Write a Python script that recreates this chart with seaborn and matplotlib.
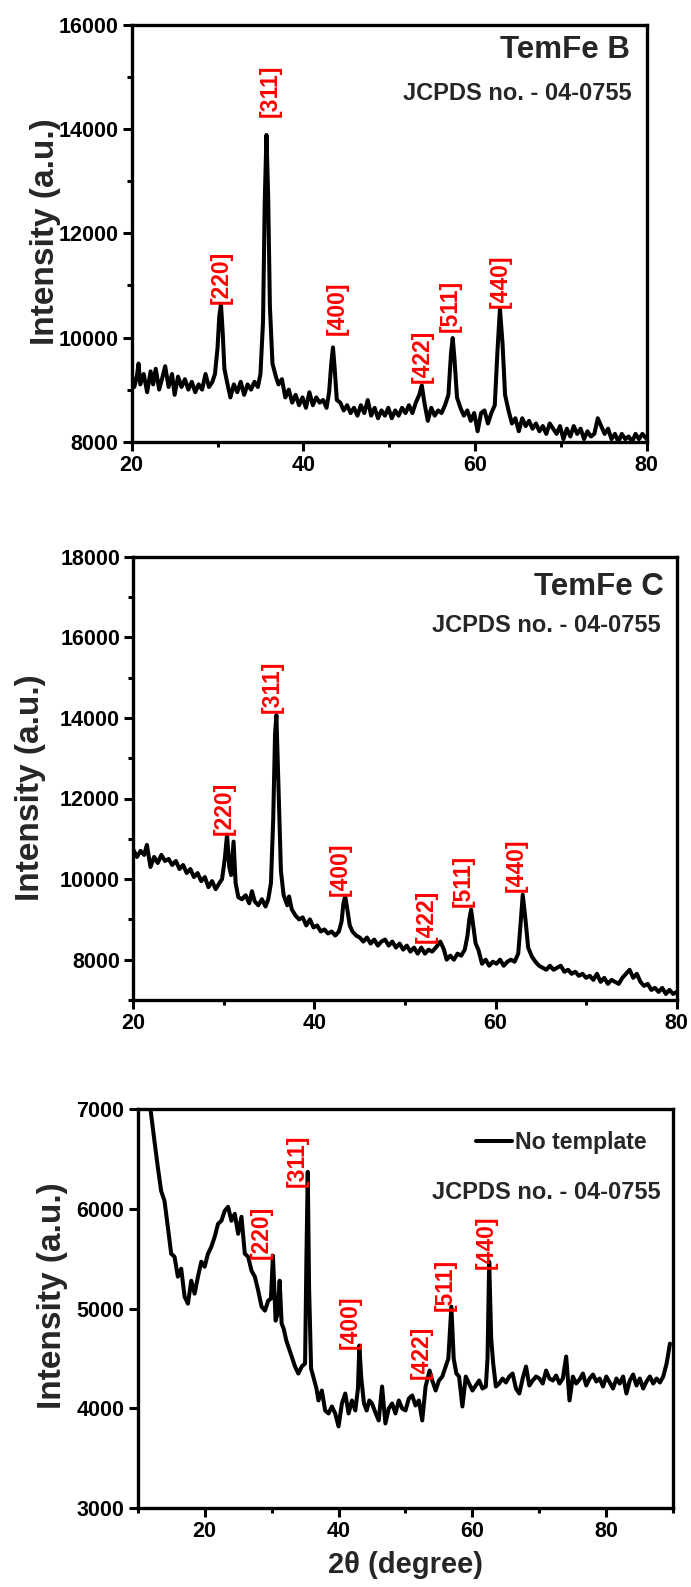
import matplotlib
matplotlib.use("Agg")
import matplotlib.pyplot as plt
from matplotlib.ticker import MultipleLocator
import seaborn as sns

# ---------------- data: TemFe B ----------------
two_theta_b = [
    20.0, 20.3, 20.6, 20.8, 21.0, 21.4, 21.8, 22.2, 22.5, 22.8,
    23.2, 23.6, 23.9, 24.3, 24.7, 25.0, 25.4, 25.8, 26.2, 26.6,
    27.0, 27.4, 27.8, 28.2, 28.6, 29.0, 29.4, 29.7, 30.0, 30.2,
    30.4, 30.6, 30.8, 31.1, 31.5, 31.9, 32.3, 32.7, 33.1, 33.5,
    33.9, 34.3, 34.7, 35.0, 35.3, 35.5, 35.7, 35.9, 36.1, 36.4,
    36.8, 37.1, 37.5, 37.9, 38.3, 38.7, 39.1, 39.5, 39.9, 40.3,
    40.7, 41.1, 41.5, 41.9, 42.3, 42.7, 43.0, 43.25, 43.45, 43.65,
    43.9, 44.3, 44.7, 45.1, 45.5, 45.9, 46.3, 46.7, 47.1, 47.5,
    47.9, 48.3, 48.7, 49.1, 49.5, 49.9, 50.3, 50.7, 51.1, 51.5,
    51.9, 52.3, 52.7, 53.1, 53.5, 53.8, 54.1, 54.5, 54.9, 55.3,
    55.7, 56.1, 56.5, 56.9, 57.2, 57.4, 57.6, 57.9, 58.3, 58.7,
    59.1, 59.5, 59.9, 60.3, 60.7, 61.1, 61.5, 61.9, 62.3, 62.6,
    62.9, 63.2, 63.5, 63.9, 64.3, 64.7, 65.1, 65.5, 65.9, 66.3,
    66.7, 67.1, 67.5, 67.9, 68.3, 68.7, 69.1, 69.5, 69.9, 70.3,
    70.7, 71.1, 71.5, 71.9, 72.3, 72.7, 73.1, 73.5, 73.9, 74.3,
    74.7, 75.1, 75.5, 75.9, 76.3, 76.7, 77.1, 77.5, 77.9, 78.3,
    78.7, 79.1, 79.5, 80.0,
]
intensity_b = [
    9300, 9050, 9250, 9500, 9100, 9300, 8950, 9350, 9100, 9400,
    9000, 9250, 9450, 9050, 9300, 8900, 9250, 9050, 9200, 9000,
    9150, 8950, 9100, 9000, 9300, 9050, 9150, 9300, 9800, 10400,
    10640, 10100, 9400, 9150, 8850, 9100, 8950, 9150, 8900, 9100,
    9000, 9150, 9050, 9300, 10300, 12600, 13890, 12700, 10600, 9500,
    9250, 9100, 9200, 8850, 9000, 8750, 8900, 8700, 8850, 8650,
    8950, 8700, 8850, 8750, 8800, 8650, 8950, 9500, 9810, 9400,
    8800, 8750, 8600, 8700, 8550, 8650, 8500, 8700, 8550, 8800,
    8500, 8650, 8450, 8600, 8500, 8650, 8450, 8600, 8500, 8650,
    8550, 8700, 8550, 8750, 8900, 9080, 8750, 8400, 8650, 8500,
    8600, 8550, 8700, 8900, 9700, 9990, 9600, 8850, 8650, 8500,
    8600, 8400, 8550, 8200, 8550, 8600, 8350, 8550, 8700, 9700,
    10550, 9900, 8900, 8600, 8350, 8450, 8200, 8450, 8300, 8400,
    8250, 8350, 8200, 8300, 8150, 8350, 8250, 8150, 8300, 8050,
    8250, 8100, 8300, 8150, 8250, 8050, 8200, 8100, 8150, 8450,
    8300, 8150, 8250, 8050, 8150, 8000, 8150, 8050, 8100, 8000,
    8150, 8050, 8150, 8050,
]

# ---------------- data: TemFe C ----------------
two_theta_c = [
    20.0, 20.4, 20.8, 21.2, 21.5, 21.9, 22.3, 22.7, 23.1, 23.5,
    23.9, 24.3, 24.7, 25.1, 25.5, 25.9, 26.3, 26.7, 27.1, 27.5,
    27.9, 28.3, 28.7, 29.1, 29.5, 29.8, 30.1, 30.35, 30.6, 30.8,
    31.07, 31.3, 31.6, 32.0, 32.4, 32.8, 33.1, 33.4, 33.8, 34.2,
    34.6, 34.9, 35.2, 35.45, 35.65, 35.8, 36.0, 36.3, 36.6, 37.0,
    37.2, 37.5, 37.9, 38.3, 38.7, 39.1, 39.5, 39.9, 40.3, 40.7,
    41.1, 41.5, 41.9, 42.3, 42.7, 43.0, 43.2, 43.4, 43.6, 43.9,
    44.2, 44.6, 45.0, 45.4, 45.8, 46.2, 46.6, 47.0, 47.4, 47.8,
    48.2, 48.6, 49.0, 49.4, 49.8, 50.2, 50.6, 51.0, 51.4, 51.8,
    52.2, 52.6, 53.0, 53.4, 53.9, 54.3, 54.6, 55.0, 55.4, 55.8,
    56.2, 56.6, 56.9, 57.1, 57.3, 57.5, 57.8, 58.1, 58.5, 58.9,
    59.3, 59.7, 60.1, 60.5, 60.9, 61.3, 61.7, 62.1, 62.5, 62.8,
    63.0, 63.3, 63.6, 64.0, 64.4, 64.8, 65.2, 65.6, 66.0, 66.4,
    66.8, 67.2, 67.6, 68.0, 68.4, 68.8, 69.2, 69.6, 70.0, 70.4,
    70.8, 71.2, 71.6, 72.0, 72.4, 72.8, 73.2, 73.6, 74.0, 74.4,
    74.8, 75.2, 75.6, 76.0, 76.4, 76.8, 77.2, 77.6, 78.0, 78.4,
    78.8, 79.2, 79.6, 80.0,
]
intensity_c = [
    10730, 10550, 10700, 10600, 10850, 10300, 10550, 10400, 10600, 10450,
    10500, 10350, 10450, 10250, 10350, 10150, 10250, 10050, 10150, 9950,
    10050, 9800, 9950, 9750, 9900, 10000, 10500, 11100, 10300, 10100,
    10930, 9900, 9550, 9500, 9600, 9400, 9700, 9450, 9350, 9500,
    9320, 9500, 9900, 11500, 13600, 14070, 12500, 10200, 9600, 9350,
    9570, 9250, 9100, 9000, 9050, 8850, 9000, 8800, 8850, 8700,
    8750, 8650, 8700, 8600, 8700, 8950, 9400, 9570, 9300, 8850,
    8700, 8600, 8550, 8450, 8550, 8400, 8500, 8350, 8450, 8500,
    8350, 8450, 8300, 8400, 8250, 8350, 8200, 8300, 8150, 8300,
    8150, 8250, 8200, 8300, 8450, 8250, 8000, 8100, 8000, 8150,
    8100, 8250, 8600, 9000, 9240, 8900, 8400, 8250, 7900, 8000,
    7850, 7950, 7900, 8000, 7850, 7950, 8000, 7950, 8150, 9000,
    9610, 9000, 8300, 8080, 7950, 7850, 7800, 7750, 7850, 7750,
    7800, 7850, 7700, 7750, 7650, 7700, 7600, 7650, 7550, 7600,
    7500, 7650, 7450, 7550, 7400, 7500, 7450, 7400, 7550, 7650,
    7750, 7550, 7650, 7450, 7350, 7400, 7250, 7300, 7200, 7300,
    7150, 7250, 7150, 7200,
]

# ---------------- data: No template ----------------
two_theta_n = [
    11.5, 12.0, 12.5, 13.0, 13.5, 14.0, 14.5, 15.0, 15.5, 16.0,
    16.5, 17.0, 17.5, 18.0, 18.5, 19.0, 19.5, 20.0, 20.5, 21.0,
    21.5, 22.0, 22.5, 23.0, 23.5, 24.0, 24.5, 25.0, 25.5, 26.0,
    26.5, 27.0, 27.5, 28.0, 28.5, 29.0, 29.5, 29.9, 30.2, 30.6,
    30.9, 31.2, 31.5, 31.8, 32.2, 32.6, 33.0, 33.5, 34.0, 34.5,
    35.0, 35.2, 35.4, 35.6, 35.9, 36.3, 36.7, 37.0, 37.5, 38.0,
    38.5, 39.0, 39.5, 40.0, 40.5, 41.0, 41.5, 42.0, 42.5, 42.9,
    43.1, 43.4, 43.8, 44.2, 44.6, 45.0, 45.5, 46.0, 46.5, 47.0,
    47.5, 48.0, 48.5, 49.0, 49.5, 50.0, 50.5, 51.0, 51.5, 52.0,
    52.5, 53.0, 53.3, 53.6, 54.0, 54.5, 55.0, 55.5, 56.0, 56.4,
    56.85, 57.2, 57.6, 58.0, 58.5, 59.0, 59.5, 60.0, 60.5, 61.0,
    61.5, 62.0, 62.25, 62.5, 62.8, 63.1, 63.5, 64.0, 64.5, 65.0,
    65.5, 66.0, 66.5, 67.0, 67.5, 68.0, 68.5, 69.0, 69.5, 70.0,
    70.5, 71.0, 71.5, 72.0, 72.5, 73.0, 73.5, 74.0, 74.5, 75.0,
    75.5, 76.0, 76.5, 77.0, 77.5, 78.0, 78.5, 79.0, 79.5, 80.0,
    80.5, 81.0, 81.5, 82.0, 82.5, 83.0, 83.5, 84.0, 84.5, 85.0,
    85.5, 86.0, 86.5, 87.0, 87.5, 88.0, 88.5, 89.0, 89.5,
]
intensity_n = [
    7200, 6950, 6680, 6420, 6180, 6080, 5820, 5550, 5520, 5320,
    5400, 5120, 5050, 5280, 5150, 5320, 5470, 5420, 5550, 5620,
    5720, 5850, 5880, 5980, 6020, 5880, 5950, 5750, 5920, 5550,
    5520, 5380, 5320, 5180, 5020, 4980, 5080, 5100, 5530, 4880,
    4950, 5280, 4850, 4800, 4680, 4600, 4520, 4420, 4350, 4420,
    4450, 5500, 6370, 5200, 4400, 4300, 4200, 4080, 4180, 3980,
    3950, 4020, 3950, 3820, 4050, 4150, 3950, 4080, 3980, 4200,
    4630, 4300, 4050, 3980, 4080, 4050, 3960, 3880, 4220, 3850,
    4000, 4050, 3950, 4080, 4000, 3980, 4100, 4130, 4030, 4080,
    3880, 4220, 4300, 4380, 4280, 4180, 4280, 4320, 4420, 4500,
    5020, 4500, 4350, 4320, 4020, 4320, 4250, 4180, 4230, 4280,
    4200, 4220, 4500, 5470, 4700, 4450, 4220, 4250, 4300, 4260,
    4320, 4350, 4200, 4150, 4300, 4420, 4230, 4280, 4320, 4300,
    4250, 4380, 4300, 4280, 4330, 4250, 4300, 4520, 4080, 4320,
    4250, 4290, 4350, 4230, 4300, 4340, 4270, 4300, 4220, 4320,
    4260, 4200, 4300, 4250, 4320, 4150, 4280, 4340, 4230, 4300,
    4200, 4270, 4320, 4250, 4300, 4260, 4320, 4450, 4650,
]

# Miller-index labels and where they sit (2theta, intensity at label base)
hkl_labels = ["[220]", "[311]", "[400]", "[422]", "[511]", "[440]"]
label_x_b = [30.4, 36.1, 43.9, 53.9, 57.1, 62.9]
label_y_b = [10650, 14230, 10050, 9120, 10100, 10560]
label_x_c = [30.0, 35.3, 42.8, 52.4, 56.4, 62.3]
label_y_c = [11100, 14110, 9570, 8410, 9320, 9690]
label_x_n = [28.5, 33.9, 41.8, 52.3, 56.0, 62.1]
label_y_n = [5500, 6220, 4600, 4300, 4980, 5400]

jcpds_text = "JCPDS no. - 04-0755"

assert len(two_theta_b) == len(intensity_b)
assert len(two_theta_c) == len(intensity_c)
assert len(two_theta_n) == len(intensity_n)

# ---------------- style ----------------
sns.set_theme(style="ticks")
FONT = ["Liberation Sans", "DejaVu Sans"]
plt.rcParams["font.family"] = FONT
plt.rcParams["font.weight"] = "bold"
plt.rcParams["axes.labelweight"] = "bold"

W, H = 691, 1587
fig = plt.figure(figsize=(W / 100, H / 100), dpi=100)


def px_axes(left, top, right, bottom):
    return fig.add_axes([left / W, 1 - bottom / H, (right - left) / W, (bottom - top) / H])


ax_b = px_axes(131.7, 25.0, 646.7, 441.7)
ax_c = px_axes(133.3, 556.7, 676.7, 1000.0)
ax_n = px_axes(137.7, 1109.0, 673.3, 1508.3)

LW = 2.9
sns.lineplot(x=two_theta_b, y=intensity_b, ax=ax_b, color="black", lw=LW,
             sort=False, estimator=None)
sns.lineplot(x=two_theta_c, y=intensity_c, ax=ax_c, color="black", lw=LW,
             sort=False, estimator=None)
sns.lineplot(x=two_theta_n, y=intensity_n, ax=ax_n, color="black", lw=LW,
             sort=False, estimator=None, label="No template")


def style_axes(ax, xlim, ylim, xmaj, xmin, ymaj, ymin):
    ax.set_xlim(*xlim)
    ax.set_ylim(*ylim)
    ax.xaxis.set_major_locator(MultipleLocator(xmaj))
    ax.xaxis.set_minor_locator(MultipleLocator(xmin))
    ax.yaxis.set_major_locator(MultipleLocator(ymaj))
    if ymin:
        ax.yaxis.set_minor_locator(MultipleLocator(ymin))
    for sp in ax.spines.values():
        sp.set_visible(True)
        sp.set_linewidth(2.4)
        sp.set_color("black")
    ax.tick_params(which="major", direction="out", length=6.5, width=2.2,
                   labelsize=15.5, pad=3.0, colors="black")
    ax.tick_params(which="minor", direction="out", length=3.5, width=2.2,
                   colors="black")
    ax.tick_params(top=False, right=False, which="both")
    for lab in ax.get_xticklabels() + ax.get_yticklabels():
        lab.set_fontweight("bold")
    ax.set_xlabel("")
    ax.set_ylabel("Intensity (a.u.)", fontsize=24, fontweight="bold")


style_axes(ax_b, (20, 80), (8000, 16000), 20, 10, 2000, 1000)
style_axes(ax_c, (20, 80), (7000, 18000), 20, 10, 2000, 1000)
style_axes(ax_n, (10, 90), (3000, 7000), 20, 10, 1000, None)

ax_b.yaxis.set_label_coords(-0.137, 0.503)
ax_c.yaxis.set_label_coords(-0.161, 0.48)
ax_n.yaxis.set_label_coords(-0.130, 0.532)

ax_n.set_xlabel("2\u03b8 (degree)", fontsize=21, fontweight="bold", labelpad=6)


def add_labels(ax, xs, ys):
    for t, x, y in zip(hkl_labels, xs, ys):
        ax.text(x, y, t, rotation=90, color="red", fontsize=16.5, fontweight="bold",
                ha="center", va="bottom")


add_labels(ax_b, label_x_b, label_y_b)
add_labels(ax_c, label_x_c, label_y_c)
add_labels(ax_n, label_x_n, label_y_n)

# sample names / card numbers
ax_b.text(0.968, 0.975, "TemFe B", transform=ax_b.transAxes, ha="right", va="top",
          fontsize=22.5, fontweight="bold")
ax_b.text(0.97, 0.835, jcpds_text, transform=ax_b.transAxes, ha="right", va="center",
          fontsize=17, fontweight="bold")
ax_c.text(0.976, 0.965, "TemFe C", transform=ax_c.transAxes, ha="right", va="top",
          fontsize=22.5, fontweight="bold")
ax_c.text(0.97, 0.845, jcpds_text, transform=ax_c.transAxes, ha="right", va="center",
          fontsize=17, fontweight="bold")
ax_n.text(0.976, 0.79, jcpds_text, transform=ax_n.transAxes, ha="right", va="center",
          fontsize=17, fontweight="bold")

leg = ax_n.legend(loc="center right", bbox_to_anchor=(0.95, 0.917), frameon=False,
                  handlelength=1.55, handletextpad=0.13, borderpad=0, borderaxespad=0,
                  prop={"family": FONT, "weight": "bold", "size": 16.7})

fig.savefig("out.png", dpi=100)
